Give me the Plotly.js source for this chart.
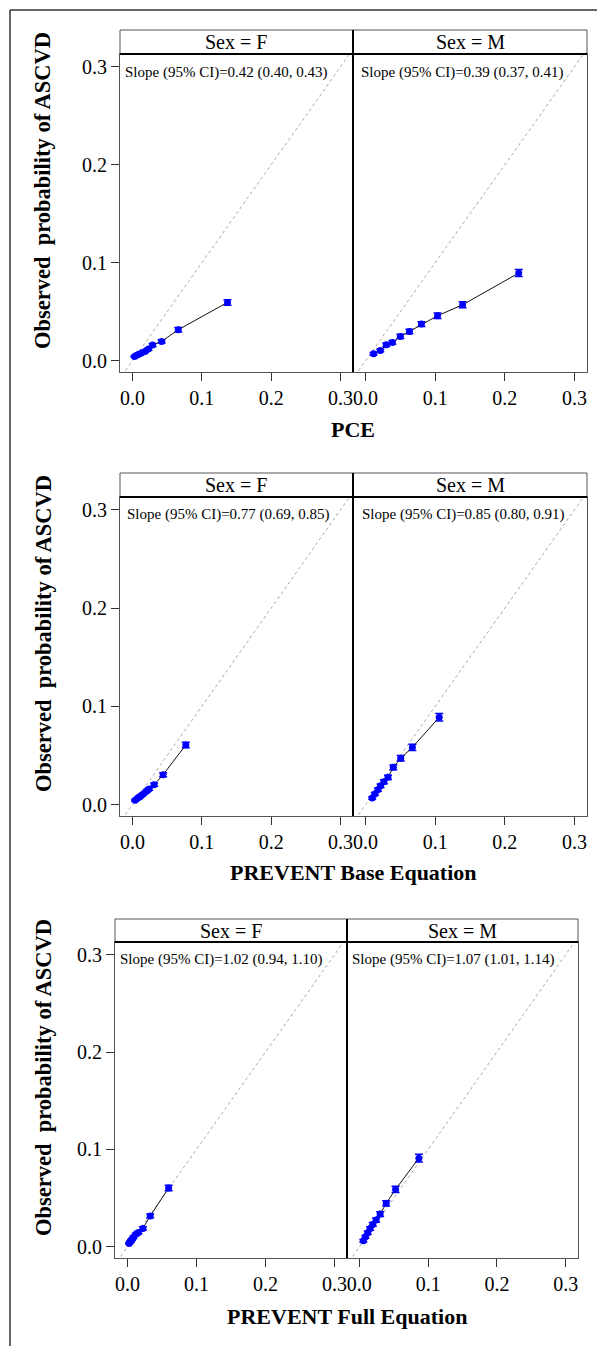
<!DOCTYPE html>
<html>
<head>
<meta charset="utf-8">
<script src="https://cdn.plot.ly/plotly-3.0.1.min.js"></script>
<style>
html,body{margin:0;padding:0;background:#fff;}
#chart{width:597px;height:1346px;}
</style>
</head>
<body>
<div id="chart"></div>
<script>
// ---------- DATA ----------
const panelTitles = ["PCE", "PREVENT Base Equation", "PREVENT Full Equation"];
const sexLabels = ["Sex = F", "Sex = M"];
const tickVals = [0, 0.1, 0.2, 0.3];
const identityLine = [-0.05, 0.35];

const slopeF = ["Slope (95% CI)=0.42 (0.40, 0.43)", "Slope (95% CI)=0.77 (0.69, 0.85)", "Slope (95% CI)=1.02 (0.94, 1.10)"];
const slopeM = ["Slope (95% CI)=0.39 (0.37, 0.41)", "Slope (95% CI)=0.85 (0.80, 0.91)", "Slope (95% CI)=1.07 (1.01, 1.14)"];

// PCE
const pceF_x = [0.003, 0.006, 0.009, 0.013, 0.018, 0.023, 0.029, 0.042, 0.066, 0.137];
const pceF_y = [0.0044, 0.0055, 0.0065, 0.0078, 0.0095, 0.0119, 0.016, 0.0197, 0.0316, 0.0595];
const pceF_e = [0.0008, 0.0009, 0.001, 0.0011, 0.0012, 0.0013, 0.0015, 0.0017, 0.0022, 0.0028];
const pceM_x = [0.0115, 0.0212, 0.0298, 0.0385, 0.050, 0.063, 0.0803, 0.1034, 0.1394, 0.220];
const pceM_y = [0.0071, 0.0105, 0.0163, 0.0187, 0.0248, 0.0299, 0.0374, 0.0459, 0.0571, 0.0895];
const pceM_e = [0.0012, 0.0014, 0.0017, 0.0019, 0.0021, 0.0023, 0.0025, 0.0027, 0.003, 0.0035];
// PREVENT Base
const baseF_x = [0.0038, 0.0077, 0.0100, 0.0115, 0.0154, 0.0202, 0.024, 0.0312, 0.0442, 0.0769];
const baseF_y = [0.0044, 0.0068, 0.0078, 0.0085, 0.0109, 0.0136, 0.016, 0.0204, 0.0305, 0.0608];
const baseF_e = [0.0008, 0.0009, 0.001, 0.001, 0.0011, 0.0012, 0.0014, 0.0016, 0.002, 0.0028];
const baseM_x = [0.0096, 0.0134, 0.0178, 0.0216, 0.0264, 0.0322, 0.0399, 0.0505, 0.0673, 0.1058];
const baseM_y = [0.0068, 0.0109, 0.0153, 0.0193, 0.0234, 0.0278, 0.038, 0.0472, 0.0584, 0.0889];
const baseM_e = [0.0012, 0.0014, 0.0016, 0.0018, 0.002, 0.0022, 0.0025, 0.0028, 0.0032, 0.0038];
// PREVENT Full
const fullF_x = [0.0025, 0.004, 0.0055, 0.0064, 0.0087, 0.0122, 0.016, 0.0224, 0.033, 0.0597];
const fullF_y = [0.0035, 0.0051, 0.0065, 0.0076, 0.0097, 0.0128, 0.0148, 0.0189, 0.0316, 0.0604];
const fullF_e = [0.0008, 0.0009, 0.001, 0.001, 0.0011, 0.0012, 0.0014, 0.0016, 0.002, 0.0028];
const fullM_x = [0.0058, 0.0088, 0.0122, 0.0156, 0.0195, 0.0243, 0.0302, 0.039, 0.0526, 0.0866];
const fullM_y = [0.0062, 0.0103, 0.0144, 0.0189, 0.023, 0.0275, 0.0336, 0.0446, 0.059, 0.091];
const fullM_e = [0.0012, 0.0014, 0.0016, 0.0018, 0.002, 0.0022, 0.0025, 0.0028, 0.0033, 0.004];

const seriesX = [[pceF_x, pceM_x], [baseF_x, baseM_x], [fullF_x, fullM_x]];
const seriesY = [[pceF_y, pceM_y], [baseF_y, baseM_y], [fullF_y, fullM_y]];
const seriesE = [[pceF_e, pceM_e], [baseF_e, baseM_e], [fullF_e, fullM_e]];

// ---------- LAYOUT GEOMETRY (pixels) ----------
const W = 597, H = 1346;
const X = px => px / W;
const Y = py => 1 - py / H;
const SERIF = "Liberation Serif, Times New Roman, serif";

const geo = [
  {l:120, m:353, r:587, stripTop:30, top:54, bottom:372, slopeY:72, slopeXF:123, slopeXM:359, titleY:430, titleX:353, yTitleY:191},
  {l:120, m:353, r:587, stripTop:473, top:497, bottom:816, slopeY:514, slopeXF:125, slopeXM:360, titleY:872, titleX:353, yTitleY:634},
  {l:115, m:347, r:578, stripTop:919, top:942, bottom:1258, slopeY:959, slopeXF:118, slopeXM:350, titleY:1316, titleX:347, yTitleY:1078}
];
const xRange = [-0.018, 0.318];
const yRange = [-0.0115, 0.313];

const traces = [];
const layout = {
  width: W, height: H,
  margin: {l:0, r:0, t:0, b:0},
  paper_bgcolor: "#ffffff",
  plot_bgcolor: "#ffffff",
  showlegend: false,
  font: {family: SERIF, color: "#000"},
  shapes: [],
  annotations: []
};

for (let p = 0; p < 3; p++) {
  const g = geo[p];
  for (let s = 0; s < 2; s++) {
    const k = p * 2 + s + 1;
    const xa = "x" + k, ya = "y" + k;
    const left = s === 0 ? g.l : g.m;
    const right = s === 0 ? g.m : g.r;
    layout["xaxis" + k] = {
      domain: [X(left), X(right)],
      range: xRange,
      anchor: ya,
      tickvals: tickVals,
      tickformat: ".1f",
      ticks: "outside", ticklen: 8, tickwidth: 1, tickcolor: "#333",
      showline: true, mirror: true, linecolor: "#555", linewidth: 1,
      showgrid: false, zeroline: false,
      tickfont: {family: SERIF, size: 20, color: "#000"},
      fixedrange: true
    };
    layout["yaxis" + k] = {
      domain: [Y(g.bottom), Y(g.top)],
      range: yRange,
      anchor: xa,
      tickvals: tickVals,
      tickformat: ".1f",
      ticks: s === 0 ? "outside" : "",
      showticklabels: s === 0,
      ticklen: 8, tickwidth: 1, tickcolor: "#333",
      showline: true, mirror: true, linecolor: "#555", linewidth: 1,
      showgrid: false, zeroline: false,
      tickfont: {family: SERIF, size: 20, color: "#000"},
      fixedrange: true
    };
    // identity reference line
    traces.push({
      type: "scatter", mode: "lines", xaxis: xa, yaxis: ya,
      x: identityLine, y: identityLine,
      line: {color: "#a8a8a8", width: 1, dash: "dot"},
      hoverinfo: "skip"
    });
    // observed vs predicted
    traces.push({
      type: "scatter", mode: "lines+markers", xaxis: xa, yaxis: ya,
      x: seriesX[p][s], y: seriesY[p][s],
      line: {color: "#111", width: 1},
      marker: {color: "#0000ff", size: 7, symbol: "circle"},
      error_y: {type: "data", array: seriesE[p][s], visible: true, color: "#0000ff", thickness: 1.5, width: 4}
    });
    // strip
    layout.shapes.push({
      type: "rect", xref: "paper", yref: "paper",
      x0: X(left), x1: X(right), y0: Y(g.top), y1: Y(g.stripTop),
      line: {color: "#555", width: 1}, fillcolor: "#ffffff", layer: "below"
    });
    layout.annotations.push({
      xref: "paper", yref: "paper", x: X((left + right) / 2), y: Y((g.stripTop + g.top) / 2),
      xanchor: "center", yanchor: "middle", showarrow: false,
      text: sexLabels[s], font: {family: SERIF, size: 20, color: "#000"}
    });
    layout.annotations.push({
      xref: "paper", yref: "paper", x: X(s === 0 ? g.slopeXF : g.slopeXM), y: Y(g.slopeY),
      xanchor: "left", yanchor: "middle", showarrow: false,
      text: s === 0 ? slopeF[p] : slopeM[p], font: {family: SERIF, size: 15, color: "#000"}
    });
  }
  // strip bottom thick line and panel divider
  layout.shapes.push({
    type: "line", xref: "paper", yref: "paper",
    x0: X(g.l), x1: X(g.r), y0: Y(g.top), y1: Y(g.top),
    line: {color: "#000", width: 2}
  });
  layout.shapes.push({
    type: "line", xref: "paper", yref: "paper",
    x0: X(g.m), x1: X(g.m), y0: Y(g.bottom), y1: Y(g.stripTop),
    line: {color: "#000", width: 2}
  });
  // x axis title
  layout.annotations.push({
    xref: "paper", yref: "paper", x: X(g.titleX), y: Y(g.titleY),
    xanchor: "center", yanchor: "middle", showarrow: false,
    text: "<b>" + panelTitles[p] + "</b>", font: {family: SERIF, size: 22, color: "#000"}
  });
  // y axis title
  layout.annotations.push({
    xref: "paper", yref: "paper", x: X(43), y: Y(g.yTitleY),
    xanchor: "center", yanchor: "middle", showarrow: false, textangle: -90,
    text: "<b>Observed  probability of ASCVD</b>", font: {family: SERIF, size: 22.5, color: "#000"}
  });
}

// outer frame (top & left edges)
layout.shapes.push({type: "line", xref: "paper", yref: "paper", x0: X(10), x1: 1, y0: Y(10), y1: Y(10), line: {color: "#333", width: 1.5}});
layout.shapes.push({type: "line", xref: "paper", yref: "paper", x0: X(10), x1: X(10), y0: 0, y1: Y(10), line: {color: "#333", width: 1.5}});

Plotly.newPlot("chart", traces, layout, {displayModeBar: false, staticPlot: true});
</script>
</body>
</html>
